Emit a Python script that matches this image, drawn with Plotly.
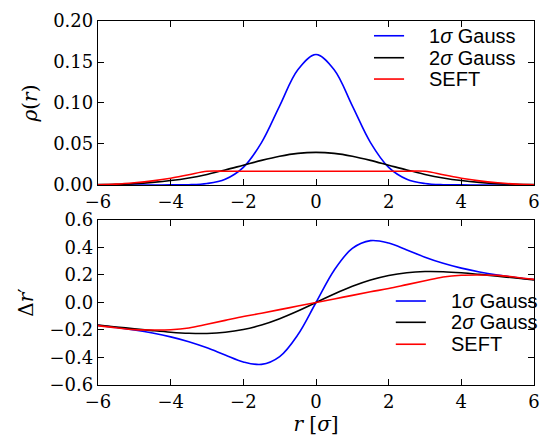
import plotly.graph_objects as go
from plotly.subplots import make_subplots

# radial coordinate in units of sigma
r = [-6.0, -5.5, -5.0, -4.5, -4.0, -3.5, -3.0, -2.5, -2.0, -1.5, -1.0, -0.5, 0.0,
     0.5, 1.0, 1.5, 2.0, 2.5, 3.0, 3.5, 4.0, 4.5, 5.0, 5.5, 6.0]

# charge density profiles rho(r)
rho_gauss1 = [0.0, 0.0, 0.0, 0.0, 0.0001, 0.0003, 0.0018, 0.0070, 0.0215, 0.0517, 0.0965, 0.1405, 0.1592,
              0.1405, 0.0965, 0.0517, 0.0215, 0.0070, 0.0018, 0.0003, 0.0001, 0.0, 0.0, 0.0, 0.0]
rho_gauss2 = [0.0004, 0.0009, 0.0017, 0.0032, 0.0054, 0.0086, 0.0129, 0.0182, 0.0241, 0.0300, 0.0351, 0.0386, 0.0398,
              0.0386, 0.0351, 0.0300, 0.0241, 0.0182, 0.0129, 0.0086, 0.0054, 0.0032, 0.0017, 0.0009, 0.0004]
rho_seft = [0.0003, 0.0010, 0.0027, 0.0050, 0.0082, 0.0125, 0.0167, 0.0167, 0.0167, 0.0167, 0.0167, 0.0167, 0.0167,
            0.0167, 0.0167, 0.0167, 0.0167, 0.0167, 0.0167, 0.0125, 0.0082, 0.0050, 0.0027, 0.0010, 0.0003]

# displacement profiles delta r'
dr_gauss1 = [-0.1667, -0.1818, -0.2000, -0.2222, -0.2499, -0.2851, -0.3296, -0.3824, -0.4323, -0.4502, -0.3935, -0.2350, 0.0,
             0.2350, 0.3935, 0.4502, 0.4323, 0.3824, 0.3296, 0.2851, 0.2499, 0.2222, 0.2000, 0.1818, 0.1667]
dr_gauss2 = [-0.1648, -0.1777, -0.1912, -0.2045, -0.2162, -0.2239, -0.2251, -0.2169, -0.1967, -0.1635, -0.1175, -0.0616, 0.0,
             0.0616, 0.1175, 0.1635, 0.1967, 0.2169, 0.2251, 0.2239, 0.2162, 0.2045, 0.1912, 0.1777, 0.1648]
dr_seft = [-0.168, -0.184, -0.197, -0.200, -0.198, -0.185, -0.158, -0.130, -0.102, -0.078, -0.052, -0.026, 0.0,
           0.026, 0.052, 0.078, 0.102, 0.130, 0.158, 0.185, 0.198, 0.200, 0.197, 0.184, 0.168]

names = ["1<i>σ</i> Gauss", "2<i>σ</i> Gauss", "SEFT"]
colors = ["#0000ff", "#000000", "#ff0000"]

SERIF = "DejaVu Serif"
SANS = "Liberation Sans"
TICK_FONT = dict(family=SERIF, size=18, color="black")
TITLE_FONT = dict(family=SERIF, size=20, color="black")

fig = make_subplots(rows=2, cols=1, vertical_spacing=0.0)

for name, color, rho in zip(names, colors, [rho_gauss1, rho_gauss2, rho_seft]):
    fig.add_trace(go.Scatter(x=r, y=rho, name=name, mode="lines", showlegend=False,
                             line=dict(color=color, width=1.6, shape="spline")), row=1, col=1)
for name, color, dr in zip(names, colors, [dr_gauss1, dr_gauss2, dr_seft]):
    fig.add_trace(go.Scatter(x=r, y=dr, name=name, mode="lines", showlegend=False,
                             line=dict(color=color, width=1.6, shape="spline")), row=2, col=1)

# in-axes legends: key line plus label for each curve
legend_boxes = [
    # (xref, yref, key start, key end, label x, row positions)
    ("x domain", "y domain", 0.633, 0.702, 0.755, [0.910, 0.776, 0.646]),
    ("x2 domain", "y2 domain", 0.683, 0.752, 0.805, [0.509, 0.380, 0.247]),
]
for xref, yref, k0, k1, tx, rows in legend_boxes:
    for name, color, yy in zip(names, colors, rows):
        fig.add_shape(type="line", xref=xref, yref=yref, x0=k0, x1=k1, y0=yy, y1=yy,
                      line=dict(color=color, width=1.6))
        fig.add_annotation(xref=xref, yref=yref, x=tx, y=yy, text=name, showarrow=False,
                           xanchor="left", yanchor="middle", font=dict(family=SANS, size=20, color="black"))

axis_common = dict(
    showline=True, linecolor="black", linewidth=1.3, mirror="allticks",
    ticks="inside", ticklen=6, tickwidth=1, tickcolor="black",
    showgrid=False, zeroline=False, tickfont=TICK_FONT,
)

fig.update_layout(
    width=542, height=441,
    margin=dict(l=98, r=8, t=21, b=56, autoexpand=False),
    paper_bgcolor="white", plot_bgcolor="white",
    xaxis=dict(domain=[0, 1], anchor="y", range=[-6, 6], dtick=2, tick0=-6, **axis_common),
    yaxis=dict(domain=[0.5495, 1.0], anchor="x", range=[0, 0.2], dtick=0.05, tick0=0, tickformat=".2f",
               title=dict(text="<i>ρ</i>(<i>r</i>)", font=TITLE_FONT, standoff=10), **axis_common),
    xaxis2=dict(domain=[0, 1], anchor="y2", range=[-6, 6], dtick=2, tick0=-6,
                title=dict(text="<i>r</i> [<i>σ</i>]", font=TITLE_FONT, standoff=4), **axis_common),
    yaxis2=dict(domain=[0.0, 0.4533], anchor="x2", range=[-0.6, 0.6], dtick=0.2, tick0=-0.6, tickformat=".1f",
                title=dict(text="Δ<i>r</i>′", font=TITLE_FONT, standoff=10), **axis_common),
    showlegend=False,
)

fig.write_html("out.html")
